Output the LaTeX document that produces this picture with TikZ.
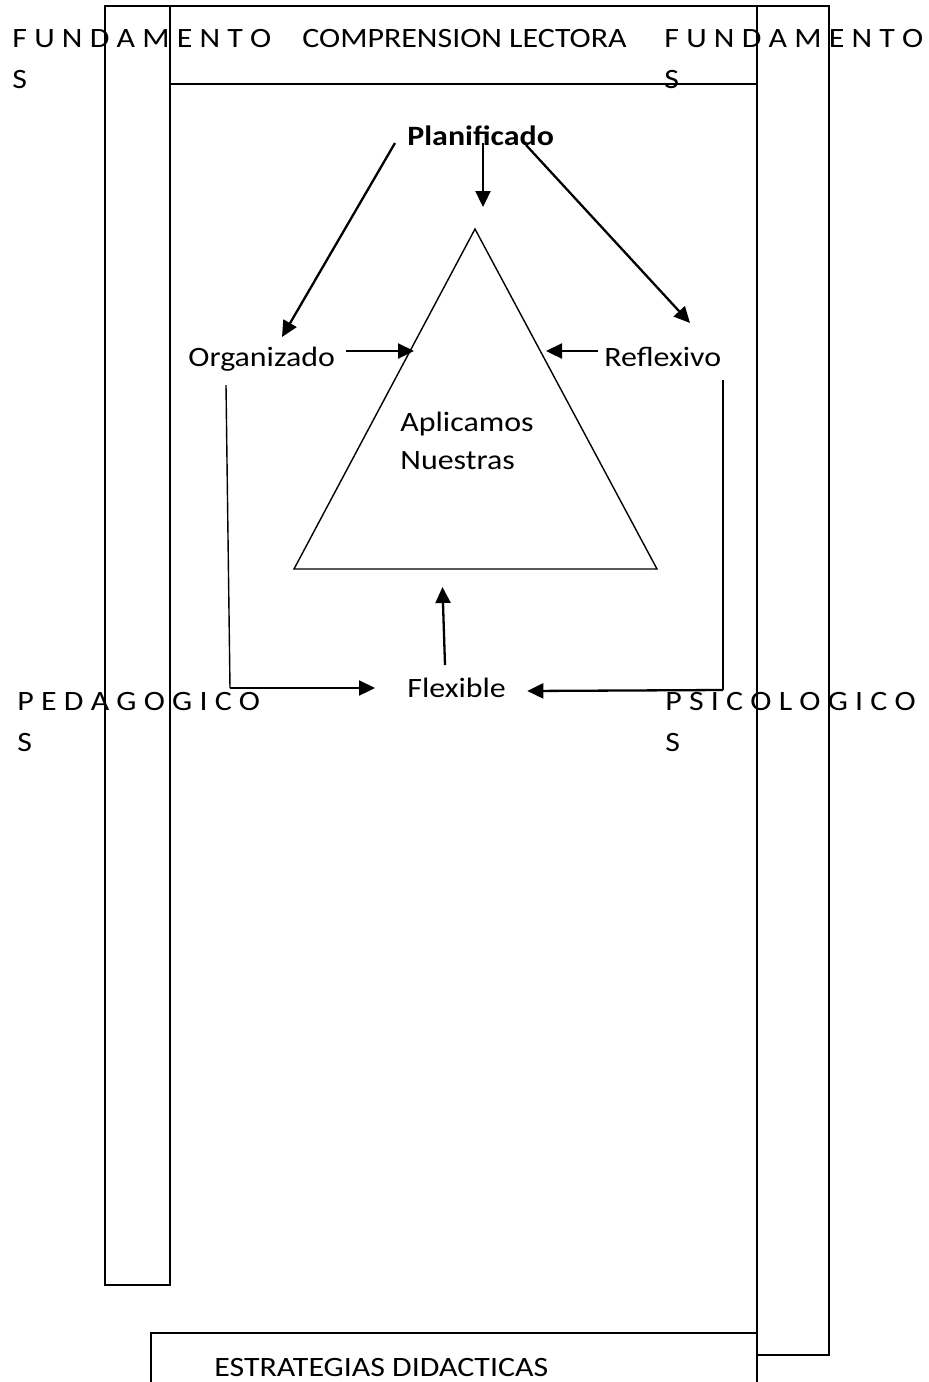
\documentclass[tikz,border=0pt]{standalone}
\usepackage{fontspec}
\setmainfont{Carlito}[FakeStretch=1.14]
\usetikzlibrary{arrows.meta,positioning,calc}

\begin{document}
\begin{tikzpicture}[x=0.5pt,y=-0.5pt,
    frame/.style={line width=0.7pt},
    lead/.style={line width=0.7pt},
    side/.style={inner sep=0pt,anchor=base west,align=left,font=\fontsize{14}{20.5}\selectfont},
    word/.style={inner sep=0pt,anchor=base west,align=left,font=\fontsize{14}{18.65}\selectfont},
    arr/.style={line width=1.15pt,-{Triangle[length=8pt,width=7.5pt]}}]
    \useasboundingbox (0,0) rectangle (929,1382);
    % columns, header and footer
    \draw[frame] (105,6) rectangle (170,1285);
    \draw[frame] (757,6) rectangle (829,1355);
    \draw[frame] (170,6) -- (757,6);
    \draw[frame] (170,84) -- (757,84);
    \draw[frame] (151,1382) -- (151,1333) -- (757,1333) -- (757,1382);
    \node[side] (fundL) at (12,88) {F U N D A M E N T O\\S};
    \node[side] (title) at (302,47) {COMPRENSION LECTORA};
    \node[side] (fundR) at (664,88) {F U N D A M E N T O\\S};
    \node[side] (pedag) at (17,751) {P E D A G O G I C O\\S};
    \node[side] (psico) at (665,751) {P S I C O L O G I C O\\S};
    \node[side] (estra) at (214,1376) {ESTRATEGIAS DIDACTICAS};
    % triangle
    \coordinate (apex) at (475,229);
    \coordinate (bl) at (294,569);
    \coordinate (br) at (657,569);
    \draw[frame] (apex) -- (bl) -- (br) -- cycle;
    \node[word] (apli) at (400,469) {Aplicamos\\Nuestras};
    \node[word,font=\fontsize{14}{18.65}\selectfont\bfseries] (plan) at (407,145) {Planificado};
    \node[word] (org) at (188,366) {Organizado};
    \node[word] (refl) at (604,366) {Reflexivo};
    \node[word] (flex) at (407,697) {Flexible};
    \coordinate (tL) at (414,351);
    \coordinate (tR) at (546,351);
    \coordinate (cL) at (230,688);
    \coordinate (cR) at (723,690);
    % arrows
    \draw[arr] ($(plan.base west)+(-12,-2)$) -- ($(org.base west)+(94,-29)$);
    \draw[arr] ($(plan.base west)+(76,-2)$) -- ($(apex)+(8,-22)$);
    \draw[arr] ($(plan.base west)+(119,0)$) -- ($(refl.base west)+(86,-43)$);
    \draw[arr] ($(org.base east)+(11,-15)$) -- (tL);
    \draw[arr] ($(refl.base west)+(-6,-15)$) -- (tR);
    \draw[lead] ($(org.base west)+(38,19)$) -- (cL);
    \draw[arr] (cL) -- ($(flex.base west)+(-32,-9)$);
    \draw[lead] ($(refl.base west)+(119,14)$) -- (cR);
    \draw[arr] (cR) -- ($(flex.base east)+(21,-6)$);
    \draw[arr] ($(flex.base west)+(38,-32)$) -- ($(bl)!0.409!(br)+(0,18)$);
\end{tikzpicture}
\end{document}
